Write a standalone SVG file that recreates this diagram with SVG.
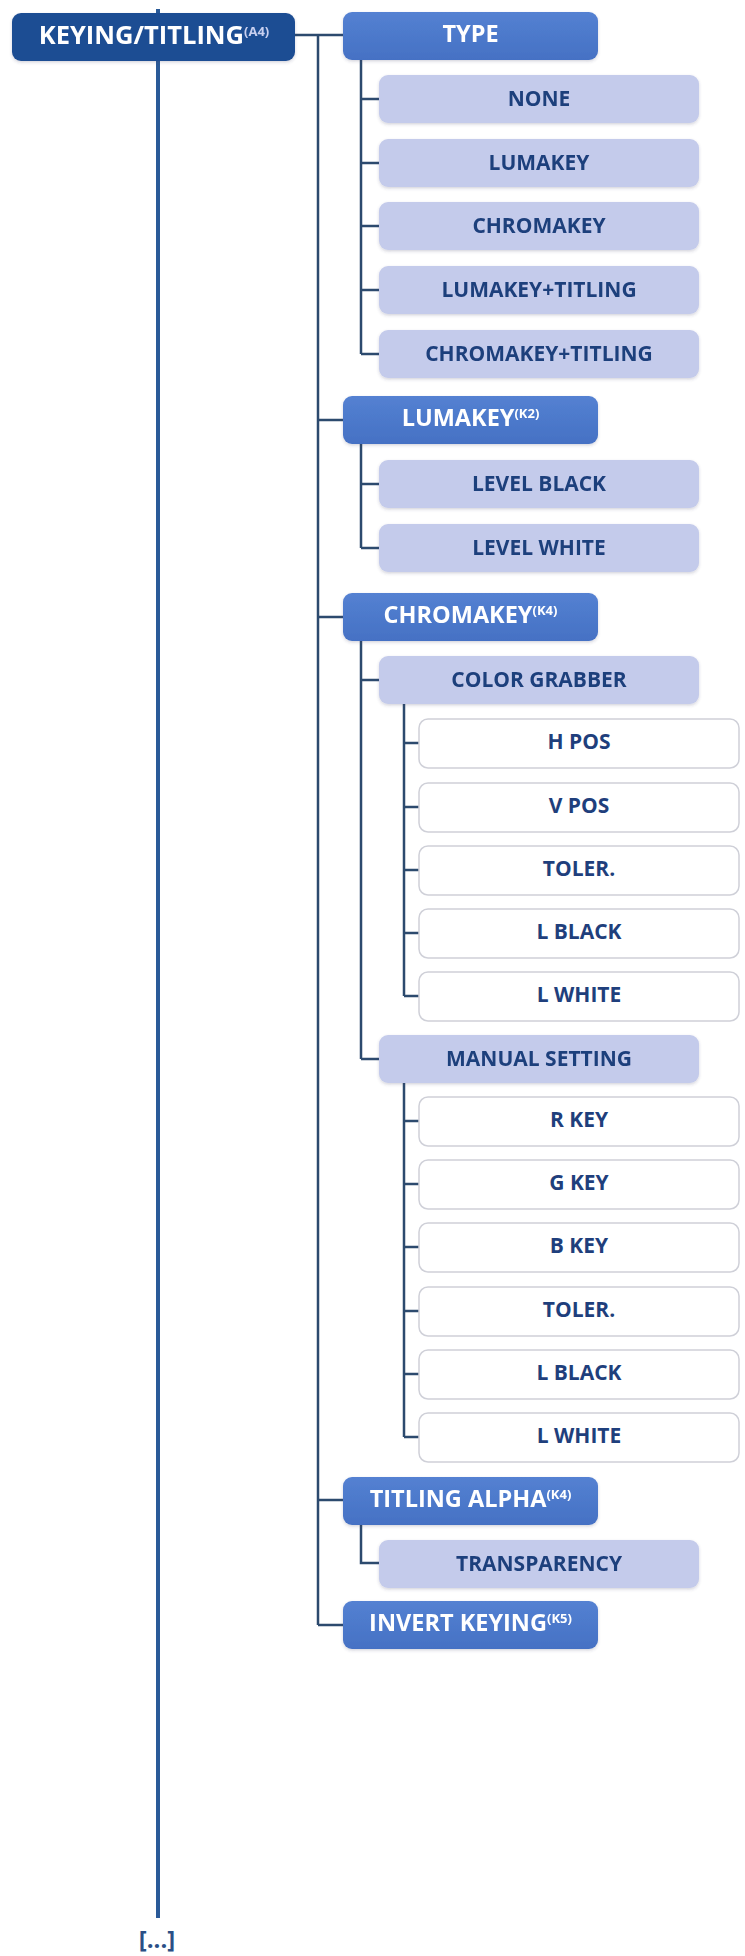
<svg xmlns="http://www.w3.org/2000/svg" width="745" height="1956" viewBox="0 0 745 1956">
<style>
text{font-family:"Open Sans","Liberation Sans",sans-serif;font-weight:700;text-anchor:middle}
.root{fill:#1f4e93}
.l1{fill:url(#g1)}
.leaf{fill:#c4cbeb}
.wbox{fill:#ffffff;stroke:#cfd0d8;stroke-width:1.5}
.tw{fill:#ffffff;font-size:23.5px}
.tr{fill:#ffffff;font-size:25.5px}
.tl{fill:#1f3f7c;font-size:21px}
.sup{font-size:13px}
.conn{fill:none;stroke:#2c4a6e;stroke-width:2.5}
.main{fill:none;stroke:#2a5a98;stroke-width:4}
</style>
<defs>
<linearGradient id="g1" x1="0" y1="0" x2="0" y2="1">
<stop offset="0" stop-color="#5481d2"/>
<stop offset="1" stop-color="#4571c4"/>
</linearGradient>
<filter id="sh" x="-5%" y="-10%" width="110%" height="130%">
<feDropShadow dx="0" dy="1.5" stdDeviation="1.5" flood-color="#404060" flood-opacity="0.22"/>
</filter>
</defs>
<rect width="745" height="1956" fill="#ffffff"/>
<g id="connectors">
<path class="main" d="M158 9V1918"/>
<path class="conn" d="M295 35H343M318 35V1625M318 420H343M318 617H343M318 1500H343M318 1625H343"/>
<path class="conn" d="M361 60V354M361 99H379M361 163H379M361 226H379M361 290H379M361 354H379"/>
<path class="conn" d="M361 444V548M361 484H379M361 548H379"/>
<path class="conn" d="M361 641V1059M361 680H379M361 1059H379"/>
<path class="conn" d="M404 704V996M404 743H419M404 807H419M404 870H419M404 933H419M404 996H419"/>
<path class="conn" d="M404 1083V1437M404 1121H419M404 1184H419M404 1247H419M404 1311H419M404 1374H419M404 1437H419"/>
<path class="conn" d="M361 1524V1563H379"/>
</g>
<g id="keying" filter="url(#sh)"><rect class="root" x="12" y="13" width="283" height="48" rx="9"/><text class="tr" x="154" y="44">KEYING/TITLING<tspan class="sup" dy="-8" fill="#c8d0f0" font-size="14">(A4)</tspan></text></g>
<g id="type" filter="url(#sh)"><rect class="l1" x="343" y="12" width="255" height="48" rx="9"/><text class="tw" x="470.5" y="42">TYPE</text></g>
<g id="none" filter="url(#sh)"><rect class="leaf" x="379" y="75" width="320" height="48" rx="9"/><text class="tl" x="539" y="106">NONE</text></g>
<g id="lumakey-type" filter="url(#sh)"><rect class="leaf" x="379" y="139" width="320" height="48" rx="9"/><text class="tl" x="539" y="170">LUMAKEY</text></g>
<g id="chromakey-type" filter="url(#sh)"><rect class="leaf" x="379" y="202" width="320" height="48" rx="9"/><text class="tl" x="539" y="233">CHROMAKEY</text></g>
<g id="lumakey-titling" filter="url(#sh)"><rect class="leaf" x="379" y="266" width="320" height="48" rx="9"/><text class="tl" x="539" y="297">LUMAKEY+TITLING</text></g>
<g id="chromakey-titling" filter="url(#sh)"><rect class="leaf" x="379" y="330" width="320" height="48" rx="9"/><text class="tl" x="539" y="361">CHROMAKEY+TITLING</text></g>
<g id="lumakey" filter="url(#sh)"><rect class="l1" x="343" y="396" width="255" height="48" rx="9"/><text class="tw" x="470.5" y="426">LUMAKEY<tspan class="sup" dy="-8">(K2)</tspan></text></g>
<g id="level-black" filter="url(#sh)"><rect class="leaf" x="379" y="460" width="320" height="48" rx="9"/><text class="tl" x="539" y="491">LEVEL BLACK</text></g>
<g id="level-white" filter="url(#sh)"><rect class="leaf" x="379" y="524" width="320" height="48" rx="9"/><text class="tl" x="539" y="555">LEVEL WHITE</text></g>
<g id="chromakey" filter="url(#sh)"><rect class="l1" x="343" y="593" width="255" height="48" rx="9"/><text class="tw" x="470.5" y="623">CHROMAKEY<tspan class="sup" dy="-8">(K4)</tspan></text></g>
<g id="color-grabber" filter="url(#sh)"><rect class="leaf" x="379" y="656" width="320" height="48" rx="9"/><text class="tl" x="539" y="687">COLOR GRABBER</text></g>
<g id="h-pos"><rect class="wbox" x="419" y="719" width="320" height="49" rx="9"/><text class="tl" x="579" y="749">H POS</text></g>
<g id="v-pos"><rect class="wbox" x="419" y="783" width="320" height="49" rx="9"/><text class="tl" x="579" y="813">V POS</text></g>
<g id="toler-1"><rect class="wbox" x="419" y="846" width="320" height="49" rx="9"/><text class="tl" x="579" y="876">TOLER.</text></g>
<g id="l-black-1"><rect class="wbox" x="419" y="909" width="320" height="49" rx="9"/><text class="tl" x="579" y="939">L BLACK</text></g>
<g id="l-white-1"><rect class="wbox" x="419" y="972" width="320" height="49" rx="9"/><text class="tl" x="579" y="1002">L WHITE</text></g>
<g id="manual-setting" filter="url(#sh)"><rect class="leaf" x="379" y="1035" width="320" height="48" rx="9"/><text class="tl" x="539" y="1066">MANUAL SETTING</text></g>
<g id="r-key"><rect class="wbox" x="419" y="1097" width="320" height="49" rx="9"/><text class="tl" x="579" y="1127">R KEY</text></g>
<g id="g-key"><rect class="wbox" x="419" y="1160" width="320" height="49" rx="9"/><text class="tl" x="579" y="1190">G KEY</text></g>
<g id="b-key"><rect class="wbox" x="419" y="1223" width="320" height="49" rx="9"/><text class="tl" x="579" y="1253">B KEY</text></g>
<g id="toler-2"><rect class="wbox" x="419" y="1287" width="320" height="49" rx="9"/><text class="tl" x="579" y="1317">TOLER.</text></g>
<g id="l-black-2"><rect class="wbox" x="419" y="1350" width="320" height="49" rx="9"/><text class="tl" x="579" y="1380">L BLACK</text></g>
<g id="l-white-2"><rect class="wbox" x="419" y="1413" width="320" height="49" rx="9"/><text class="tl" x="579" y="1443">L WHITE</text></g>
<g id="titling-alpha" filter="url(#sh)"><rect class="l1" x="343" y="1477" width="255" height="48" rx="9"/><text class="tw" x="470.5" y="1507">TITLING ALPHA<tspan class="sup" dy="-8">(K4)</tspan></text></g>
<g id="transparency" filter="url(#sh)"><rect class="leaf" x="379" y="1540" width="320" height="48" rx="9"/><text class="tl" x="539" y="1571">TRANSPARENCY</text></g>
<g id="invert-keying" filter="url(#sh)"><rect class="l1" x="343" y="1601" width="255" height="48" rx="9"/><text class="tw" x="470.5" y="1631">INVERT KEYING<tspan class="sup" dy="-8">(K5)</tspan></text></g>
<g id="more"><text x="157" y="1948" fill="#2a4f86" font-size="24">[...]</text></g>
</svg>
